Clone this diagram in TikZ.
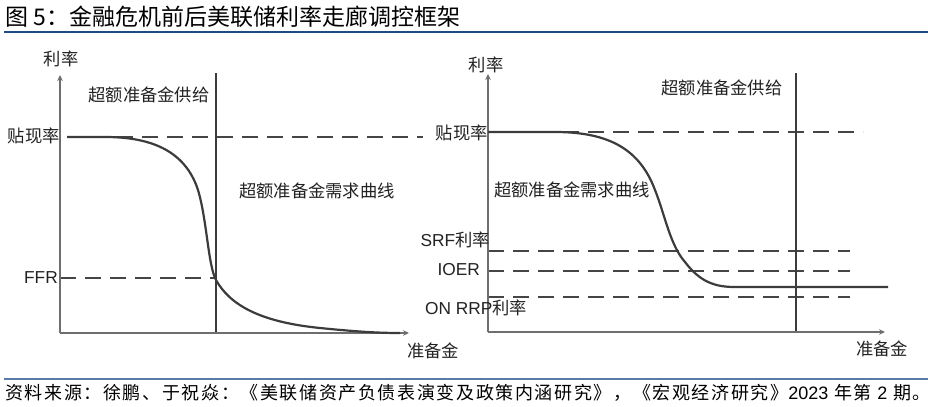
\documentclass[tikz,border=0pt]{standalone}
\usepackage{fontspec}
\setmainfont{Liberation Sans}
\newfontfamily\cjk{Noto Sans CJK SC}
\newfontfamily\cjkfoot[LetterSpace=9]{Noto Sans CJK SC}
\newfontfamily\lat{Liberation Sans}
\usetikzlibrary{arrows.meta}
\definecolor{axisgray}{HTML}{6E6E6E}
\definecolor{curvegray}{HTML}{3C3C3C}
\definecolor{dashgray}{HTML}{454545}
\definecolor{titleblue}{HTML}{1F4A85}
\definecolor{footblue}{HTML}{5A7BAA}
\definecolor{labelgray}{HTML}{222222}
\begin{document}
\begin{tikzpicture}[x=1pt,y=-1pt,
 axis/.style={draw=axisgray,line width=1.6pt,-{Stealth[length=6pt,width=5.5pt]}},
 supply/.style={draw=curvegray,line width=1.8pt},
 demand/.style={draw=curvegray,line width=2.2pt,line join=round},
 rate/.style={draw=dashgray,line width=1.9pt,dash pattern=on 16pt off 9pt},
 lbl/.style={font=\fontsize{17.3}{20}\selectfont,text=labelgray,inner sep=0pt},
 rule/.style={line width=1.3pt},
]
\useasboundingbox[fill=white] (0,0) rectangle (938,407);

% title
\node[anchor=west,inner sep=0pt,font=\cjk\fontsize{23}{26}\selectfont,text=black] (title) at (5,17) {图 5：金融危机前后美联储利率走廊调控框架};
\coordinate (t0) at (4,32); \coordinate (t1) at (928,32);
\draw[rule,draw=titleblue] (t0) -- (t1);

% ---------- left panel ----------
\coordinate (Lo) at (60,333);
\coordinate (Ly) at (60,75);
\coordinate (Lx) at (409,333);
\coordinate (Ls0) at (216,333);
\coordinate (Ls1) at (216,73);
\coordinate (Ld0) at (67,137);
\coordinate (Ld1) at (423,137);
\coordinate (Lf0) at (60,278);
\coordinate (Lf1) at (216,278);
\coordinate (Lc0) at (67,137);
\coordinate (Lc1) at (400,333);

\draw[rate] (Ld0) -- (Ld1);
\draw[rate] (Lf0) -- (Lf1);
\draw[supply] (Ls0) -- (Ls1);
\draw[axis] (Lo) -- (Ly);
\draw[axis] (Lo) -- (Lx);
\draw[demand] (Lc0) -- (105,137) .. controls (150,137) and (185,150) .. (198,190)
  .. controls (207,220) and (208,265) .. (216,280)
  .. controls (230,305) and (260,322) .. (320,328)
  .. controls (360,332) and (380,333) .. (Lc1);

\node[lbl] (Lylab) at (61,59) {\cjk 利率};
\node[lbl] (Lsup) at (149,95) {\cjk 超额准备金供给};
\node[lbl,anchor=east] (Ldisc) at (60,136) {\cjk 贴现率};
\node[lbl,anchor=east] (Lffr) at (58,278) {FFR};
\node[lbl] (Ldem) at (317,191) {\cjk 超额准备金需求曲线};
\node[lbl] (Lxlab) at (433,351) {\cjk 准备金};

% ---------- right panel ----------
\coordinate (Ro) at (488,332);
\coordinate (Ry) at (488,74);
\coordinate (Rx) at (885,332);
\coordinate (Rs0) at (796,332);
\coordinate (Rs1) at (796,73);
\coordinate (Rd0) at (488,132);
\coordinate (Rd1) at (863,132);
\coordinate (Rr0) at (488,251);
\coordinate (Rr1) at (850,251);
\coordinate (Ri0) at (488,271);
\coordinate (Ri1) at (850,271);
\coordinate (Ro0) at (488,297);
\coordinate (Ro1) at (850,297);
\coordinate (Rc0) at (488,132);
\coordinate (Rc1) at (888,287);

\draw[rate] (Rd0) -- (Rd1);
\draw[rate] (Rr0) -- (Rr1);
\draw[rate] (Ri0) -- (Ri1);
\draw[rate] (Ro0) -- (Ro1);
\draw[supply] (Rs0) -- (Rs1);
\draw[axis] (Ro) -- (Ry);
\draw[axis] (Ro) -- (Rx);
\draw[demand] (Rc0) -- (555,132) .. controls (610,132) and (640,150) .. (655,190)
  .. controls (665,215) and (670,245) .. (685,262)
  .. controls (700,282) and (715,287) .. (735,287) -- (Rc1);

\node[lbl] (Rylab) at (486,65) {\cjk 利率};
\node[lbl] (Rsup) at (722,88) {\cjk 超额准备金供给};
\node[lbl,anchor=east] (Rdisc) at (488,133) {\cjk 贴现率};
\node[lbl] (Rdem) at (572,190) {\cjk 超额准备金需求曲线};
\node[lbl,anchor=east] (Rsrf) at (490,240) {SRF{\cjk 利率}};
\node[lbl,anchor=east] (Rioer) at (480,270) {IOER};
\node[lbl,anchor=west] (Ronrrp) at (425,308) {ON RRP{\cjk 利率}};
\node[lbl] (Rxlab) at (882,349) {\cjk 准备金};

% footer
\coordinate (f0) at (4,379); \coordinate (f1) at (928,379);
\draw[rule,draw=footblue] (f0) -- (f1);
\node[anchor=west,inner sep=0pt,font=\cjkfoot\fontsize{18}{20}\selectfont,text=black] (foot) at (5,393) {资料来源：徐鹏、于祝焱：《美联储资产负债表演变及政策内涵研究》，《宏观经济研究》{\lat 2023} 年第 {\lat 2} 期。};
\end{tikzpicture}
\end{document}
